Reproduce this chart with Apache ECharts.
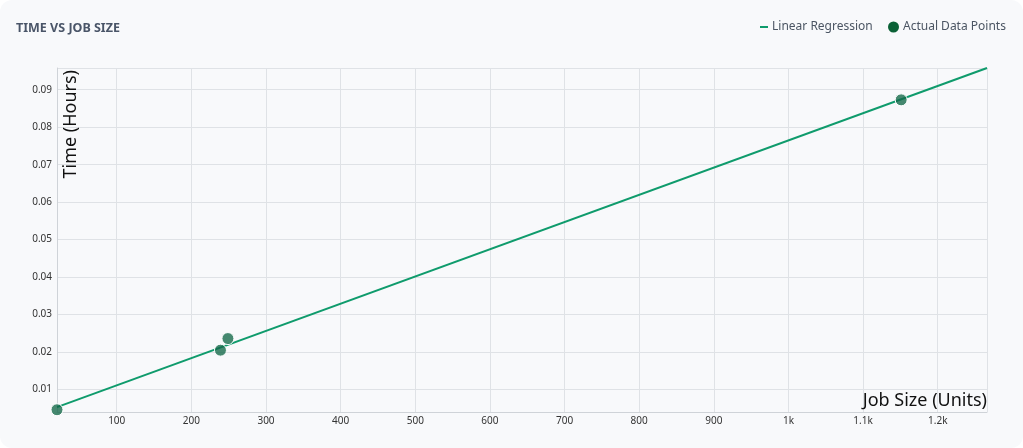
<!DOCTYPE html>
<html>
<head>
<meta charset="utf-8">
<script src="https://cdn.jsdelivr.net/npm/echarts@6/dist/echarts.min.js"></script>
<style>
  html, body { margin: 0; padding: 0; background: #ffffff; }
  #card { width: 1023px; height: 448px; background: #f8f9fb; border-radius: 12px; overflow: hidden; }
  #chart { width: 1023px; height: 448px; }
</style>
</head>
<body>
<div id="card"><div id="chart"></div></div>
<script>
// actual observations
var jobSize = [20, 239, 249, 1151];
var hours = [0.0046, 0.0205, 0.0236, 0.0873];
// fitted regression line end points
var fitX = [20, 1266];
var fitY = [0.0053, 0.0958];

var xMin = 20, xMax = 1266;
var yMin = 0.004, yMax = 0.0958;

(function () {
  var chartDom = document.getElementById('chart');
  var myChart = echarts.init(chartDom);
  var option;

  var points = jobSize.map(function (x, i) { return [x, hours[i]]; });
  var fit = fitX.map(function (x, i) { return [x, fitY[i]]; });

  option = {
    textStyle: { fontFamily: 'Noto Sans' },
    title: {
      text: 'TIME VS JOB SIZE', left: 11, top: 17,
      textStyle: {
        color: '#4a5568',
        fontSize: 12.5,
        fontWeight: 'bold',
        fontFamily: 'Noto Sans'
      }
    },
    legend: [
      {
        data: [{ name: 'Linear Regression', icon: 'rect' }],
        left: 755, top: 16,
        itemWidth: 8, itemHeight: 2, itemGap: 5,
        textStyle: { color: '#4b5563', fontSize: 12, padding: [0, 0, 0, -1] }
      },
      {
        data: [{ name: 'Actual Data Points', icon: 'circle', itemStyle: { color: '#0b6136', opacity: 1, borderWidth: 0 } }],
        left: 883, top: 16,
        itemWidth: 11, itemHeight: 11,
        textStyle: { color: '#4b5563', fontSize: 12, padding: [0, 0, 0, -1] }
      }
    ],
    grid: {
      left: 57,
      right: 36,
      top: 68,
      bottom: 36
    },
    xAxis: {
      type: 'value',
      min: xMin,
      max: xMax,
      splitNumber: 12,
      name: 'Job Size (Units)',
      nameLocation: 'end',
      nameGap: 0,
      nameTextStyle: {
        color: '#111',
        fontSize: 18,
        align: 'right',
        verticalAlign: 'bottom',
        padding: [0, 0, 2, 0]
      },
      axisLine: { lineStyle: { color: '#cfd3d8' } },
      axisTick: { show: false },
      axisLabel: {
        color: '#333',
        fontSize: 10,
        margin: 4,
        showMinLabel: false,
        showMaxLabel: false,
        formatter: function (v) {
          return v >= 1000 ? (v / 1000) + 'k' : v;
        }
      },
      splitLine: { show: true, lineStyle: { color: '#dfe2e6' } }
    },
    yAxis: {
      type: 'value',
      min: yMin,
      max: yMax,
      splitNumber: 10,
      name: 'Time (Hours)',
      nameLocation: 'end',
      nameRotate: 90,
      nameGap: -2,
      nameTextStyle: {
        color: '#111',
        fontSize: 18,
        align: 'right',
        verticalAlign: 'top',
        padding: [5, 0, 0, 0]
      },
      axisLine: { show: true, lineStyle: { color: '#cfd3d8' } },
      axisTick: { show: false },
      axisLabel: {
        color: '#333',
        fontSize: 10,
        margin: 5,
        showMinLabel: false,
        showMaxLabel: false
      },
      splitLine: { show: true, lineStyle: { color: '#dfe2e6' } }
    },
    series: [
      {
        name: 'Linear Regression',
        type: 'line',
        data: fit,
        showSymbol: false,
        symbol: 'none',
        color: '#0f9b6c',
        lineStyle: { width: 2, color: '#0f9b6c' },
        z: 2
      },
      {
        name: 'Actual Data Points',
        type: 'scatter',
        data: points,
        symbolSize: 12,
        color: '#0b6136',
        itemStyle: {
          color: 'rgba(18, 104, 72, 0.78)',
          opacity: 1,
          borderColor: '#ffffff',
          borderWidth: 1
        },
        z: 3
      }
    ]
  };

  option && myChart.setOption(option);
})();
</script>
</body>
</html>
